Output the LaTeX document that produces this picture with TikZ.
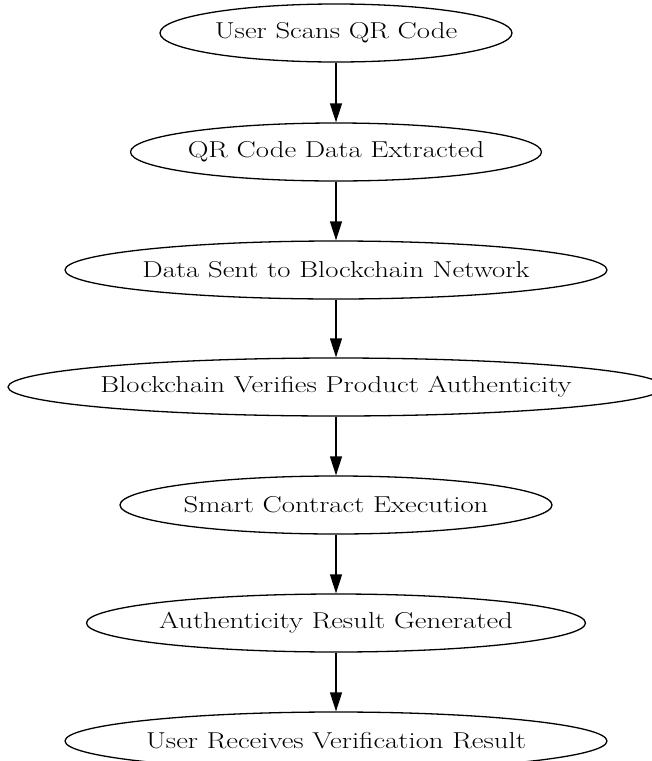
\documentclass[tikz,border=0pt]{standalone}
\usepackage{fontspec}
\setmainfont{Latin Modern Roman}[FakeStretch=1.25]
\usetikzlibrary{shapes.geometric,arrows.meta}
\newcommand{\ztext}[1]{\makebox[0pt]{#1}}
\begin{document}
\begin{tikzpicture}[x=1pt,y=-1pt,
  stepnode/.style={draw,ellipse,line width=1.3pt,inner sep=0pt,minimum height=58pt,
    font=\fontsize{23}{27}\selectfont},
  flow/.style={line width=1.3pt,-{Triangle[length=19pt,width=12pt]}}]
\useasboundingbox (0,0) rectangle (652,761);
\node[stepnode,minimum width=352pt] (n1) at (336,33) {\ztext{User Scans QR Code}};
\node[stepnode,minimum width=411pt] (n2) at (336,152) {\ztext{QR Code Data Extracted}};
\node[stepnode,minimum width=542pt] (n3) at (336,270) {\ztext{Data Sent to Blockchain Network}};
\node[stepnode,minimum width=656pt] (n4) at (336,387) {\ztext{Blockchain Verifies Product Authenticity}};
\node[stepnode,minimum width=432pt] (n5) at (336,505) {\ztext{Smart Contract Execution}};
\node[stepnode,minimum width=499pt] (n6) at (336,623) {\ztext{Authenticity Result Generated}};
\node[stepnode,minimum width=542pt] (n7) at (336,741) {\ztext{User Receives Verification Result}};
\draw[flow] (n1) -- (n2);
\draw[flow] (n2) -- (n3);
\draw[flow] (n3) -- (n4);
\draw[flow] (n4) -- (n5);
\draw[flow] (n5) -- (n6);
\draw[flow] (n6) -- (n7);
\end{tikzpicture}
\end{document}
